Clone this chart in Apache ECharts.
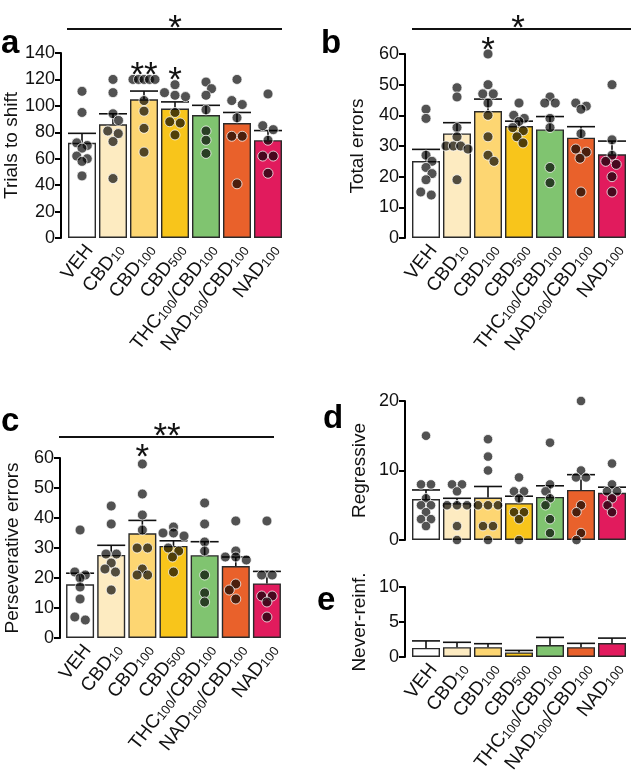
<!DOCTYPE html>
<html><head><meta charset="utf-8">
<script src="https://cdn.jsdelivr.net/npm/echarts@6/dist/echarts.min.js"></script>
<style>html,body{margin:0;padding:0;background:#fff}#c{width:632px;height:783px}</style>
</head><body><div id="c"></div>
<script>
// ---------- DATA ----------
const categories = ['VEH','CBD{s|10}','CBD{s|100}','CBD{s|500}','THC{s|100}/CBD{s|100}','NAD{s|100}/CBD{s|100}','NAD{s|100}'];
const barColors = ['#ffffff','#fdebc1','#fdd672','#f8c51b','#80c470','#e9612b','#e11b5d'];

// a: Trials to shift
const aMean = [72, 86, 105, 98, 93, 87, 74];
const aSem  = [7.2, 8, 6.2, 5, 7.4, 8, 7.3];
const aPoints = [
  [111, 95, 72, 70, 68, 62, 60, 58, 47],
  [120, 110, 94, 89, 81, 79, 73, 45],
  [120, 120, 120, 120, 120, 104, 96, 83, 65],
  [116, 110, 108, 107, 95, 88, 87, 78],
  [118, 113, 108, 97, 81, 74, 64],
  [120, 104, 101, 91, 77, 77, 41],
  [109, 85, 82, 74, 62, 62, 49]
];
// b: Total errors
const bMean = [25.1, 34.1, 41.4, 36.5, 35.4, 32.7, 27.3];
const bSem  = [3.8, 3.5, 3.9, 1.6, 4.2, 3.6, 4.3];
const bPoints = [
  [42, 39, 27, 25, 23, 21, 19, 15, 14],
  [49, 46, 36, 33, 30, 30, 30, 29, 19],
  [60, 50, 47, 47, 44, 40, 33, 27, 25],
  [44, 40, 39, 38, 36, 35, 33, 31],
  [46, 44, 44, 39, 36, 23, 18],
  [44, 43, 42, 34, 29, 28, 26, 15],
  [50, 32, 27, 25, 24, 20, 15]
];
// c: Perseverative errors
const cMean = [17.9, 27.7, 34.9, 30.7, 27.6, 24, 18.2];
const cSem  = [3.7, 3.2, 4.3, 1.7, 4.5, 3.0, 4.0];
const cPoints = [
  [36, 22, 21, 20, 17, 13, 7, 6],
  [44, 38, 28, 28, 25, 23, 22, 16],
  [58, 48, 41, 36, 30, 30, 23, 21, 21],
  [37, 35, 35, 34, 30, 29, 27, 22],
  [45, 38, 32, 29, 21, 15, 12],
  [39, 29, 27, 27, 26, 18, 16, 13],
  [39, 21, 21, 14, 14, 12, 7]
];
// d: Regressive
const dMean = [5.9, 5.3, 6.1, 5.3, 6.2, 7.2, 6.8];
const dSem  = [1.3, 0.7, 1.6, 1.0, 1.6, 2.2, 0.8];
const dPoints = [
  [15, 8, 8, 6, 5, 5, 4, 3, 3, 2],
  [8, 8, 7, 5, 5, 5, 2, 0],
  [14.5, 12, 10, 5, 5, 5, 2, 2, 0],
  [9, 7, 7, 6, 4, 4, 3, 0],
  [14, 8, 7, 6, 5, 3, 1],
  [20, 10, 9, 9, 5, 4, 1, 0],
  [11, 8, 7, 7, 6, 5, 4]
];
// e: Never-reinf.
const eMean = [1.3, 1.4, 1.4, 0.66, 1.7, 1.4, 2.0];
const eSem  = [1.0, 0.7, 0.5, 0.28, 1.1, 0.55, 0.7];

const yTitles = ['Trials to shift', 'Total errors', 'Perseverative errors', 'Regressive', 'Never-reinf.'];

// ---------- LAYOUT ----------
const FONT = 'Liberation Sans, Arial, Helvetica, sans-serif';
const panels = [
  {mean:aMean, sem:aSem, pts:aPoints, left:66.5, top:53, width:217, height:185, max:140, interval:20, offset:5.5, nameGap:36, labels:true, d:10},
  {mean:bMean, sem:bSem, pts:bPoints, left:410.5, top:54, width:217, height:184, max:60, interval:10, offset:5.5, nameGap:38, labels:true, d:10},
  {mean:cMean, sem:cSem, pts:cPoints, left:64.5, top:458, width:218, height:180, max:60, interval:10, offset:4.5, nameGap:38, labels:true, d:10},
  {mean:dMean, sem:dSem, pts:dPoints, left:410.5, top:401, width:217, height:139, max:20, interval:10, offset:5.5, nameGap:36, labels:false, d:9.5},
  {mean:eMean, sem:eSem, pts:null, left:410.5, top:587, width:217, height:70, max:10, interval:5, offset:5.5, nameGap:36, labels:true, d:9}
];

// beeswarm-like horizontal spreading (pixel offsets computed from value scale)
function swarm(values, pxPerUnit, d, maxHalf) {
  const order = values.map((v, i) => i).sort((a, b) => values[b] - values[a]);
  const rows = []; let cur = [];
  order.forEach(i => {
    if (cur.length && (values[cur[0]] - values[i]) * pxPerUnit > d * 0.45) { rows.push(cur); cur = []; }
    cur.push(i);
  });
  if (cur.length) rows.push(cur);
  const placed = []; const dx = new Array(values.length).fill(0);
  rows.forEach((row, ri) => {
    const n = row.length;
    const sp = n > 1 ? Math.min(d * 1.05, 2 * maxHalf / (n - 1)) : 0;
    const base = row.map((_, k) => (k - (n - 1) / 2) * sp);
    const half = (n - 1) / 2 * sp;
    let chosen = 0, found = false;
    for (let s = 0; s <= maxHalf - half + 0.01 && !found; s += 0.5) {
      const signs = s === 0 ? [1] : (ri % 2 ? [1, -1] : [-1, 1]);
      for (const sg of signs) {
        const sh = s * sg; let ok = true;
        for (let k = 0; k < n && ok; k++) {
          const x = base[k] + sh, y = values[row[k]] * pxPerUnit;
          for (const p of placed) { if (Math.hypot(p[0] - x, p[1] - y) < d * 0.85) { ok = false; break; } }
        }
        if (ok) { chosen = sh; found = true; break; }
      }
    }
    row.forEach((i, k) => { dx[i] = base[k] + chosen; placed.push([dx[i], values[i] * pxPerUnit]); });
  });
  return dx;
}

const grid = [], xAxis = [], yAxis = [], series = [];
panels.forEach((p, gi) => {
  grid.push({left: p.left, top: p.top, width: p.width, height: p.height});
  xAxis.push({
    type: 'category', gridIndex: gi, data: categories,
    axisLine: {show: false}, axisTick: {show: false},
    axisLabel: {show: p.labels, interval: 0, rotate: 52, margin: 3, verticalAlign: 'top', fontSize: 19, color: '#111', fontFamily: FONT,
      rich: {s: {fontSize: 13, fontFamily: FONT, color: '#111', verticalAlign: 'bottom', lineHeight: 11}}}
  });
  yAxis.push({
    type: 'value', gridIndex: gi, min: 0, max: p.max, interval: p.interval, offset: p.offset,
    axisLine: {show: true, lineStyle: {color: '#000', width: 2}},
    axisTick: {show: true, length: 6, lineStyle: {color: '#000', width: 2}},
    splitLine: {show: false},
    axisLabel: {fontSize: 18, color: '#111', margin: 6, fontFamily: FONT},
    name: yTitles[gi], nameLocation: 'middle', nameGap: p.nameGap,
    nameTextStyle: {fontSize: 19, color: '#111', fontFamily: FONT}
  });
  series.push({
    type: 'bar', xAxisIndex: gi, yAxisIndex: gi, barWidth: 28, z: 2,
    data: p.mean.map((m, k) => ({value: m, itemStyle: {color: barColors[k]}})),
    itemStyle: {borderColor: '#2a2a2a', borderWidth: 1.4}, silent: true
  });
  series.push({
    type: 'custom', xAxisIndex: gi, yAxisIndex: gi, z: 3, silent: true,
    data: p.mean.map((m, k) => [k, m, m + p.sem[k]]),
    renderItem: (params, api) => {
      const b = api.coord([api.value(0), api.value(1)]);
      const t = api.coord([api.value(0), api.value(2)]);
      const w = 28;
      const st = {stroke: '#111', lineWidth: 1.6};
      return {type: 'group', children: [
        {type: 'line', shape: {x1: b[0], y1: b[1], x2: b[0], y2: t[1]}, style: st},
        {type: 'line', shape: {x1: b[0] - w / 2, y1: t[1], x2: b[0] + w / 2, y2: t[1]}, style: st}
      ]};
    }
  });
  if (p.pts) {
    const ppu = p.height / p.max;
    const data = [];
    p.pts.forEach((vals, k) => {
      const dx = swarm(vals, ppu, p.d, 11);
      vals.forEach((v, j) => data.push([k, v, dx[j]]));
    });
    const r = p.d / 2;
    series.push({
      type: 'custom', xAxisIndex: gi, yAxisIndex: gi, z: 4, silent: true, clip: false,
      data: data,
      renderItem: (params, api) => {
        const c = api.coord([api.value(0), api.value(1)]);
        return {type: 'circle', shape: {cx: c[0] + api.value(2), cy: c[1], r: r},
          style: {fill: 'rgba(0,0,0,0.68)', stroke: 'rgba(255,255,255,0.75)', lineWidth: 1}};
      }
    });
  }
});

const chart = echarts.init(document.getElementById('c'), null, {renderer: 'canvas'});
chart.setOption({animation: false, backgroundColor: '#fff', grid, xAxis, yAxis, series});

// annotations
function cx(gi, k) { return chart.convertToPixel({xAxisIndex: gi}, k); }
const letters = [['a', 1, 27], ['b', 321, 27], ['c', 1, 405], ['d', 323, 402], ['e', 317, 584]];
const stars = [ // [gridIndex, x-center, inkCenterY, text]
  [0, 175, 20, '*'], [0, cx(0, 2), 67, '**'], [0, cx(0, 3), 72, '*'],
  [1, 518, 20, '*'], [1, cx(1, 2), 42, '*'],
  [2, 167, 428, '**'], [2, cx(2, 2), 449, '*']
];
const sigLines = [[67, 282, 29], [412, 631, 29], [59, 274, 437]];
const graphic = [];
letters.forEach(l => graphic.push({type: 'text', x: l[1], y: l[2],
  style: {text: l[0], font: 'bold 33px ' + FONT, fill: '#000', textBaseline: 'alphabetic', textAlign: 'left'}}));
stars.forEach(s => graphic.push({type: 'text', x: s[1], y: s[2] + 9,
  style: {text: s[3], font: '35px ' + FONT, fill: '#111', textAlign: 'center', textVerticalAlign: 'middle'}}));
sigLines.forEach(l => graphic.push({type: 'line', shape: {x1: l[0], y1: l[2], x2: l[1], y2: l[2]},
  style: {stroke: '#111', lineWidth: 2}}));
chart.setOption({graphic});
</script></body></html>
